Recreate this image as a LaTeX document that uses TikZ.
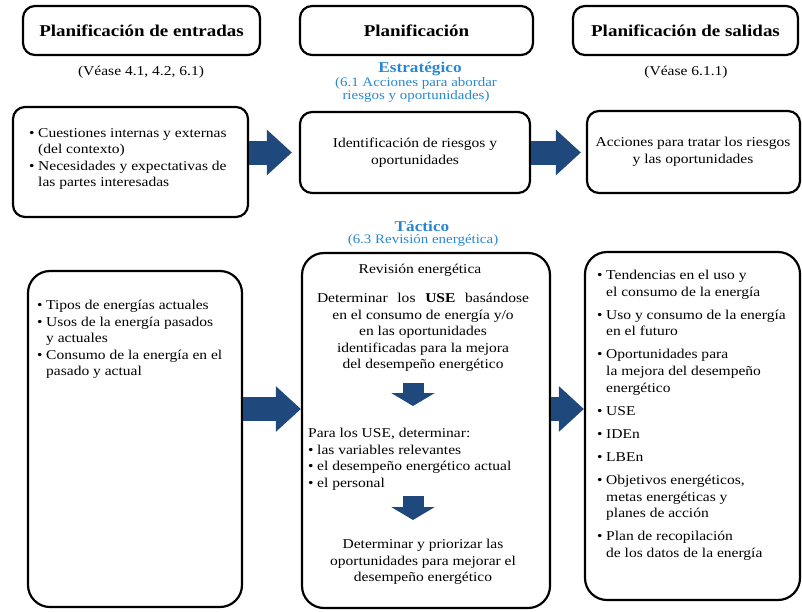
\documentclass[tikz,border=0pt]{standalone}
\usepackage{fontspec}
\setmainfont{Liberation Serif}[FakeStretch=1.15]
\usetikzlibrary{arrows.meta}
\definecolor{arrowblue}{RGB}{31,73,125}
\definecolor{titleblue}{RGB}{40,135,210}
\newcommand\bul{\makebox[9pt][l]{\textbullet}}
\newcommand\ind{\hspace*{9pt}}
\begin{document}
\begin{tikzpicture}[x=1pt,y=-1pt,
  box/.style={draw, line width=2.2pt, rounded corners=12pt, inner sep=0pt},
  bigbox/.style={draw, line width=2.2pt, rounded corners=22pt, inner sep=0pt},
  hdr/.style={font=\fontsize{16.5}{19}\selectfont\bfseries, inner sep=0pt},
  txt/.style={font=\fontsize{13.5}{16.6}\selectfont, inner sep=0pt},
  blue/.style={text=titleblue, inner sep=0pt, align=center},
  bigarr/.style={arrowblue, line width=24pt, -{Triangle[length=25pt,width=44pt]}},
  smallarr/.style={arrowblue, line width=21pt, -{Triangle[length=13pt,width=43pt]}}
]
\useasboundingbox (0,0) rectangle (802,611);

% header boxes
\node[box, minimum width=237pt, minimum height=49pt, hdr] (h1) at (141.5,30.5) {Planificación de entradas};
\node[box, minimum width=233pt, minimum height=49pt, hdr] (h2) at (416.5,30.5) {Planificación};
\node[box, minimum width=225pt, minimum height=49pt, hdr] (h3) at (685.5,30.5) {Planificación de salidas};

\node[txt, anchor=base] (v1) at (141,75) {(Véase 4.1, 4.2, 6.1)};
\node[txt, anchor=base] (v3) at (686,75) {(Véase 6.1.1)};
\node[blue, font=\fontsize{15}{16}\selectfont\bfseries, anchor=base] (est) at (420,72) {Estratégico};
\node[blue, font=\fontsize{13}{11.5}\selectfont, anchor=north] (est2) at (416,77.5) {(6.1 Acciones para abordar\\riesgos y oportunidades)};

% row 2
\node[box, minimum width=235pt, minimum height=110pt] (A) at (130.5,162) {};
\node[txt, anchor=north west, align=left] (At) at (29,128) {\bul Cuestiones internas y externas\\\ind (del contexto)\\\bul Necesidades y expectativas de\\\ind las partes interesadas};
\node[box, minimum width=230pt, minimum height=81pt] (B) at (415,152.5) {};
\node[txt, anchor=north, align=center] (Bt) at (415,138) {Identificación de riesgos y\\oportunidades};
\node[box, minimum width=213pt, minimum height=82pt] (C) at (693.5,152) {};
\node[txt, anchor=north, align=center] (Ct) at (693,137) {Acciones para tratar los riesgos\\y las oportunidades};

\draw[bigarr, shorten >=7pt] (A.east |- B.west) -- (B.west);
\draw[bigarr, shorten >=5pt] (B.east) -- (C.west |- B.east);

\node[blue, font=\fontsize{15}{16}\selectfont\bfseries, anchor=base] (tac) at (422,231) {Táctico};
\node[blue, font=\fontsize{13}{13}\selectfont, anchor=base] (tac2) at (423,243) {(6.3 Revisión energética)};

% row 3
\node[bigbox, minimum width=214pt, minimum height=336pt] (D) at (135,439) {};
\node[txt, anchor=north west, align=left] (Dt) at (37,300) {\bul Tipos de energías actuales\\\bul Usos de la energía pasados\\\ind y actuales\\\bul Consumo de la energía en el\\\ind pasado y actual};

\node[bigbox, minimum width=248pt, minimum height=355pt] (E) at (426,430.5) {};
\node[txt, anchor=base] (E0) at (420,273) {Revisión energética};
\node[txt, anchor=north, align=center] (E1) at (423,293) {\makebox[212pt][s]{Determinar los \textbf{USE} basándose}\\en el consumo de energía y/o\\en las oportunidades\\identificadas para la mejora\\del desempeño energético};
\node[txt, anchor=north west, align=left] (E2) at (308,428) {Para los USE, determinar:\\\bul las variables relevantes\\\bul el desempeño energético actual\\\bul el personal};
\node[txt, anchor=north, align=center] (E3) at (423,539) {Determinar y priorizar las\\oportunidades para mejorar el\\desempeño energético};
\coordinate (s1a) at (413,383);
\coordinate (s1b) at (413,406);
\coordinate (s2a) at (413,496);
\coordinate (s2b) at (413,520);
\draw[smallarr] (s1a) -- (s1b);
\draw[smallarr] (s2a) -- (s2b);

\node[bigbox, minimum width=215pt, minimum height=348pt] (F) at (692.5,426) {};
\node[txt, anchor=north west, align=left] (Ft) at (597,270) {\bul Tendencias en el uso y\\\ind el consumo de la energía\\[6.5pt]
\bul Uso y consumo de la energía\\\ind en el futuro\\[6.5pt]
\bul Oportunidades para\\\ind la mejora del desempeño\\\ind energético\\[6.5pt]
\bul USE\\[6.5pt]
\bul IDEn\\[6.5pt]
\bul LBEn\\[6.5pt]
\bul Objetivos energéticos,\\\ind metas energéticas y\\\ind planes de acción\\[6.5pt]
\bul Plan de recopilación\\\ind de los datos de la energía};

\coordinate (a3) at (0,409);
\draw[bigarr] (D.east |- a3) -- (E.west |- a3);
\draw[bigarr] (E.east |- a3) -- (F.west |- a3);
\end{tikzpicture}
\end{document}
